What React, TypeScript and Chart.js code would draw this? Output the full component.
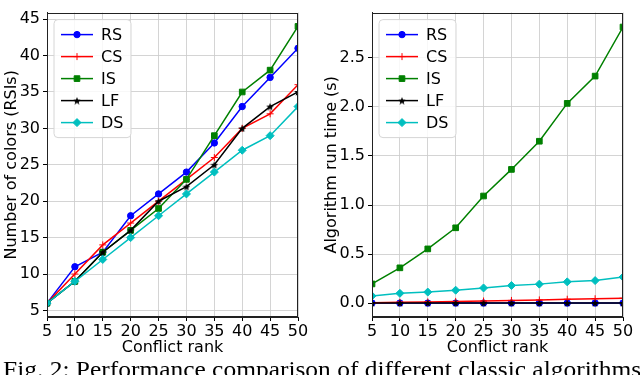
import React, { useEffect, useRef } from 'react';
import { Chart, registerables } from 'chart.js';
import { drawPoint } from 'chart.js/helpers';

Chart.register(...registerables);

// ---------- data ----------
const conflictRanks = [5, 10, 15, 20, 25, 30, 35, 40, 45, 50];
const seriesNames = ['RS', 'CS', 'IS', 'LF', 'DS'];
const seriesColors = ['#0000ff', '#ff0000', '#008000', '#000000', '#00bfbf'];
const seriesMarkers = ['circle', 'cross', 'rect', 'star', 'rectRot'];
const seriesMarkerRadius = [3.2, 3.5, 4.0, 3.5, 4];

// Number of colors (RSIs)
const colorsRS = [6, 11, 13, 18, 21, 24, 28, 33, 37, 41];
const colorsCS = [6, 10, 14, 17, 20, 23, 26, 30, 32, 36];
const colorsIS = [6, 9, 13, 16, 19, 23, 29, 35, 38, 44];
const colorsLF = [6, 9, 13, 16, 20, 22, 25, 30, 33, 35];
const colorsDS = [6, 9, 12, 15, 18, 21, 24, 27, 29, 33];

// Algorithm run time (s)
const timeRS = [0.001, 0.001, 0.001, 0.001, 0.001, 0.001, 0.001, 0.001, 0.001, 0.001];
const timeCS = [0.005, 0.01, 0.013, 0.018, 0.022, 0.028, 0.033, 0.04, 0.045, 0.05];
const timeIS = [0.196, 0.36, 0.553, 0.768, 1.092, 1.363, 1.65, 2.036, 2.314, 2.814];
const timeLF = [0.002, 0.002, 0.002, 0.002, 0.002, 0.002, 0.002, 0.002, 0.002, 0.002];
const timeDS = [0.074, 0.1, 0.113, 0.132, 0.155, 0.18, 0.194, 0.217, 0.23, 0.266];

const colorsYTicks = [5, 10, 15, 20, 25, 30, 35, 40, 45];
const timeYTicks = [0.0, 0.5, 1.0, 1.5, 2.0, 2.5];
const xTicks = [5, 10, 15, 20, 25, 30, 35, 40, 45, 50];

const colorsYLabel = 'Number of colors (RSIs)';
const timeYLabel = 'Algorithm run time (s)';
const xLabel = 'Conflict rank';
const captionText = 'Fig. 2: Performance comparison of different classic algorithms';

const FONT = "'DejaVu Sans', sans-serif";

function makeStar(color: string, size: number) {
  const c = document.createElement('canvas');
  c.width = size;
  c.height = size;
  const ctx = c.getContext('2d')!;
  const cx = size / 2;
  const cy = size / 2;
  const R = size / 2;
  const r = R * 0.45;
  ctx.beginPath();
  for (let i = 0; i < 10; i++) {
    const ang = -Math.PI / 2 + (i * Math.PI) / 5;
    const rad = i % 2 === 0 ? R : r;
    const px = cx + rad * Math.cos(ang);
    const py = cy + rad * Math.sin(ang) + 0.5;
    if (i === 0) ctx.moveTo(px, py);
    else ctx.lineTo(px, py);
  }
  ctx.closePath();
  ctx.fillStyle = color;
  ctx.fill();
  return c;
}

const framePlugin = {
  id: 'mplFrameLegend',
  afterDatasetsDraw(chart: any) {
    const { ctx, chartArea } = chart;
    ctx.save();
    // spines
    ctx.strokeStyle = '#222';
    ctx.lineWidth = 1;
    ctx.strokeRect(
      Math.round(chartArea.left) + 0.5,
      Math.round(chartArea.top) + 0.5,
      Math.round(chartArea.right - chartArea.left) - 1,
      Math.round(chartArea.bottom - chartArea.top) - 1
    );
    // legend
    const x0 = chartArea.left + 7;
    const y0 = chartArea.top + 7;
    const w = 77;
    const h = 118;
    ctx.beginPath();
    const r = 4;
    ctx.moveTo(x0 + r, y0);
    ctx.lineTo(x0 + w - r, y0);
    ctx.quadraticCurveTo(x0 + w, y0, x0 + w, y0 + r);
    ctx.lineTo(x0 + w, y0 + h - r);
    ctx.quadraticCurveTo(x0 + w, y0 + h, x0 + w - r, y0 + h);
    ctx.lineTo(x0 + r, y0 + h);
    ctx.quadraticCurveTo(x0, y0 + h, x0, y0 + h - r);
    ctx.lineTo(x0, y0 + r);
    ctx.quadraticCurveTo(x0, y0, x0 + r, y0);
    ctx.closePath();
    ctx.fillStyle = 'rgba(255,255,255,0.85)';
    ctx.fill();
    ctx.strokeStyle = '#d6d6d6';
    ctx.lineWidth = 1;
    ctx.stroke();
    chart.data.datasets.forEach((ds: any, i: number) => {
      const cy = y0 + 15 + i * 22;
      ctx.strokeStyle = ds.borderColor;
      ctx.lineWidth = 1.5;
      ctx.beginPath();
      ctx.moveTo(x0 + 7, cy);
      ctx.lineTo(x0 + 39, cy);
      ctx.stroke();
      ctx.fillStyle = ds.borderColor;
      ctx.strokeStyle = ds.borderColor;
      ctx.lineWidth = 1;
      drawPoint(ctx, { pointStyle: ds.pointStyle, radius: ds.pointRadius, rotation: 0, borderWidth: 1 }, x0 + 23, cy);
      ctx.fillStyle = '#000';
      ctx.font = `16px ${FONT}`;
      ctx.textBaseline = 'middle';
      ctx.textAlign = 'left';
      ctx.fillText(ds.label, x0 + 47, cy + 1);
    });
    ctx.restore();
  },
};

function makeChart(
  canvas: HTMLCanvasElement,
  series: number[][],
  yMin: number,
  yMax: number,
  yTicks: number[],
  yTitle: string,
  decimals: number,
  yAxisWidth: number,
  padRight: number
) {
  const datasets = series.map((vals, i) => ({
    label: seriesNames[i],
    data: vals.map((v, j) => ({ x: conflictRanks[j], y: v })),
    borderColor: seriesColors[i],
    backgroundColor: seriesColors[i],
    pointBackgroundColor: seriesColors[i],
    pointBorderColor: seriesColors[i],
    pointStyle: seriesMarkers[i] === 'star' ? makeStar(seriesColors[i], 8) : seriesMarkers[i],
    pointRadius: seriesMarkerRadius[i],
    pointBorderWidth: 1,
    borderWidth: 1.5,
    tension: 0,
    clip: 0,
    order: series.length - 1 - i,
  }));
  const gridCommon = {
    color: 'rgba(205,205,205,0.85)',
    borderDash: [1, 2],
    lineWidth: 1,
    drawTicks: true,
    tickLength: 4,
    tickColor: '#000',
    tickBorderDash: [0, 0],
    tickWidth: 1,
  };
  return new Chart(canvas, {
    type: 'line',
    data: { datasets },
    plugins: [framePlugin],
    options: {
      animation: false,
      responsive: false,
      maintainAspectRatio: false,
      layout: { padding: { left: 0, right: padRight, top: 2, bottom: 0 } },
      plugins: { legend: { display: false }, tooltip: { enabled: false } },
      scales: {
        x: {
          type: 'linear',
          min: 5,
          max: 50,
          grid: gridCommon,
          border: { display: true, color: '#222', width: 1 },
          afterBuildTicks: (s: any) => {
            s.ticks = xTicks.map((v) => ({ value: v }));
          },
          afterFit: (s: any) => {
            s.height = 43;
          },
          ticks: {
            color: '#000',
            font: { family: FONT, size: 16 },
            padding: 1,
            maxRotation: 0,
            autoSkip: false,
            callback: (v: any) => String(v),
          },
          title: {
            display: true,
            text: xLabel,
            color: '#000',
            font: { family: FONT, size: 16 },
            padding: { top: 0, bottom: 3 },
          },
        },
        y: {
          type: 'linear',
          min: yMin,
          max: yMax,
          grid: gridCommon,
          border: { display: true, color: '#222', width: 1 },
          afterBuildTicks: (s: any) => {
            s.ticks = yTicks.map((v) => ({ value: v }));
          },
          afterFit: (s: any) => {
            s.width = yAxisWidth;
          },
          ticks: {
            color: '#000',
            font: { family: FONT, size: 16 },
            padding: 3,
            autoSkip: false,
            callback: (v: any) => Number(v).toFixed(decimals),
          },
          title: {
            display: true,
            text: yTitle,
            color: '#000',
            font: { family: FONT, size: 16 },
            padding: { top: 2, bottom: 0 },
          },
        },
      },
    },
  } as any);
}

export default function App() {
  const leftRef = useRef<HTMLCanvasElement>(null);
  const rightRef = useRef<HTMLCanvasElement>(null);

  useEffect(() => {
    const c1 = makeChart(
      leftRef.current!,
      [colorsRS, colorsCS, colorsIS, colorsLF, colorsDS],
      4.1,
      45.9,
      colorsYTicks,
      colorsYLabel,
      0,
      47,
      22
    );
    const c2 = makeChart(
      rightRef.current!,
      [timeRS, timeCS, timeIS, timeLF, timeDS],
      -0.141,
      2.961,
      timeYTicks,
      timeYLabel,
      1,
      52,
      17
    );
    return () => {
      c1.destroy();
      c2.destroy();
    };
  }, []);

  return (
    <div
      style={{
        position: 'absolute',
        left: 0,
        top: 0,
        width: 640,
        height: 375,
        overflow: 'hidden',
        background: '#fff',
      }}
    >
      <canvas
        ref={leftRef}
        width={320}
        height={360}
        style={{ position: 'absolute', left: 0, top: 0, width: 320, height: 360 }}
      />
      <canvas
        ref={rightRef}
        width={320}
        height={360}
        style={{ position: 'absolute', left: 320, top: 0, width: 320, height: 360 }}
      />
      <div
        style={{
          position: 'absolute',
          left: 3,
          top: 357,
          fontFamily: "'Liberation Serif', 'Times New Roman', serif",
          fontSize: 24,
          lineHeight: '24px',
          whiteSpace: 'nowrap',
          color: '#000',
          transform: 'scaleX(1.06)',
          transformOrigin: 'left top',
        }}
      >
        {captionText}
      </div>
    </div>
  );
}
